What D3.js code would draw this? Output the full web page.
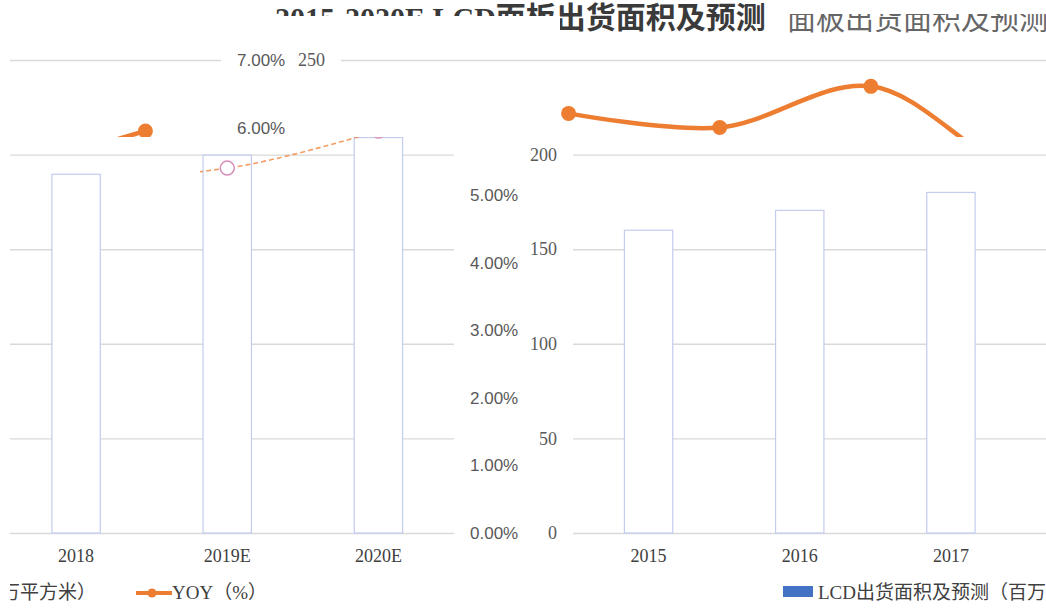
<!DOCTYPE html>
<html>
<head>
<meta charset="utf-8">
<script src="https://cdn.jsdelivr.net/npm/d3@7"></script>
<style>
  body { margin: 0; background: #fff; }
  svg { display: block; }
</style>
</head>
<body>
<div id="chart"></div>
<script>
// values
var years = ["2015", "2016", "2017", "2018", "2019E", "2020E"];
var area = [160, 170.5, 180, 189.6, 199.7, 209];      // 百万平方米
var yoy = [6.21, 6.0, 6.61, 5.35, 5.4, 5.95];         // %
var areaTicks = [0, 50, 100, 150, 200, 250];
var yoyTicks = [0, 1, 2, 3, 4, 5, 6, 7];
var titleText = "2015-2020E LCD面板出货面积及预测";
var titleTail = "面板出货面积及预测";
var barName = "LCD出货面积及预测（百万平方米）";
var lineName = "YOY（%）";

var width = 1046, height = 610;
var serif = "'Liberation Serif', 'Noto Sans CJK SC', serif";
var sans = "'Liberation Sans', 'Noto Sans', sans-serif";
var orange = "#ED7D31";
var blue = "#4472C4";

var svg = d3.select("#chart").append("svg")
  .attr("width", width)
  .attr("height", height);

svg.append("rect").attr("width", width).attr("height", height).attr("fill", "#fff");

var defs = svg.append("defs");

// the chart as it would be without the picture being shifted around
var x = d3.scaleBand().domain(years).range([55, 962]).paddingInner(0.68).paddingOuter(0.34);
var yL = d3.scaleLinear().domain([0, 250]).range([533, 60]);
var yR = d3.scaleLinear().domain([0, 7]).range([533, 60]);

var rows = years.map(function(d, i) {
  return { year: d, area: area[i], yoy: yoy[i] };
});

var line = d3.line()
  .x(function(d) { return x(d.year) + x.bandwidth() / 2; })
  .y(function(d) { return yR(d.yoy); })
  .curve(d3.curveCatmullRom.alpha(0.5));

function drawChart(g, opts) {
  if (opts.base) {
    // gridlines + left axis
    var ax = g.append("g")
      .attr("transform", "translate(55,0)")
      .call(d3.axisLeft(yL).tickValues(areaTicks).tickSize(-907).tickPadding(16));
    ax.select(".domain").remove();
    ax.selectAll("line").attr("stroke", "#d9d9d9").attr("stroke-width", 1.4);
    ax.selectAll("text").attr("fill", "#595959").style("font", "18px " + serif);

    // right axis (%)
    var ar = g.append("g")
      .attr("transform", "translate(962,0)")
      .call(d3.axisRight(yR).tickValues(yoyTicks).tickSize(0).tickPadding(16)
        .tickFormat(function(d) { return d.toFixed(2) + "%"; }));
    ar.select(".domain").remove();
    ar.selectAll("text").attr("fill", "#595959").style("font", "17px " + sans);

    // bottom axis
    var ab = g.append("g")
      .attr("transform", "translate(0,533)")
      .call(d3.axisBottom(x).tickSize(0).tickPadding(16));
    ab.select(".domain").remove();
    ab.selectAll("text").attr("fill", "#404040").style("font", "18px " + serif);

    // bars (white, thin blue edge)
    g.selectAll(".bar").data(rows).enter()
      .append("rect")
      .attr("class", "bar")
      .attr("x", function(d) { return x(d.year); })
      .attr("y", function(d) { return yL(d.area); })
      .attr("width", x.bandwidth())
      .attr("height", function(d) { return yL(0) - yL(d.area); })
      .attr("fill", "#fff")
      .attr("stroke", "#c2ccef")
      .attr("stroke-width", 1.2);

    // legend
    var lg = g.append("g");
    lg.append("rect").attr("x", 265).attr("y", 586).attr("width", 30).attr("height", 11).attr("fill", blue);
    lg.append("text").attr("x", 300).attr("y", 599)
      .attr("fill", "#404040").style("font", "19px " + serif).text(barName);
    lg.append("line").attr("x1", 644).attr("x2", 680).attr("y1", 593).attr("y2", 593)
      .attr("stroke", orange).attr("stroke-width", 4);
    lg.append("circle").attr("cx", 660).attr("cy", 593).attr("r", 4.5).attr("fill", orange);
    lg.append("text").attr("x", 680).attr("y", 599)
      .attr("fill", "#404040").style("font", "19px " + serif).text(lineName);
  }

  if (opts.line) {
    g.append("path").datum(rows)
      .attr("d", line)
      .attr("fill", "none")
      .attr("stroke", orange)
      .attr("stroke-width", 4.5)
      .attr("stroke-linecap", "round");
    g.selectAll(".dot").data(rows).enter()
      .append("circle")
      .attr("class", "dot")
      .attr("cx", function(d) { return x(d.year) + x.bandwidth() / 2; })
      .attr("cy", function(d) { return yR(d.yoy); })
      .attr("r", 7.5)
      .attr("fill", orange);
  }

  if (opts.ghost) {
    g.append("path").datum(rows)
      .attr("d", line)
      .attr("fill", "none")
      .attr("stroke", orange)
      .attr("stroke-width", 1.6)
      .attr("stroke-dasharray", "5,3")
      .attr("opacity", 0.75);
    g.selectAll(".gdot").data(rows).enter()
      .append("circle")
      .attr("class", "gdot")
      .attr("cx", function(d) { return x(d.year) + x.bandwidth() / 2; })
      .attr("cy", function(d) { return yR(d.yoy); })
      .attr("r", 7)
      .attr("fill", "#fff")
      .attr("stroke", "#d58fb8")
      .attr("stroke-width", 1.5);
  }
}

// the picture is cut in strips, each one showing the chart shifted sideways
var n = 0;
function piece(shift, cx, cy, cw, ch, opts) {
  var id = "clip" + (n++);
  defs.append("clipPath").attr("id", id)
    .append("rect").attr("x", cx).attr("y", cy).attr("width", cw).attr("height", ch);
  var outer = svg.append("g").attr("clip-path", "url(#" + id + ")");
  var inner = outer.append("g").attr("transform", "translate(" + shift + ",0)");
  drawChart(inner, opts);
  // drop the texts this strip does not show at all
  inner.selectAll("text").each(function() {
    var b = this.getBoundingClientRect();
    if (b.right <= cx || b.left >= cx + cw || b.bottom <= cy || b.top >= cy + ch) this.remove();
  });
}

piece(518, 520, 137, 526, 473, { base: true });
piece(-508, 10, 137, 510, 473, { base: true });
piece(-508, 200, 137, 200, 48, { ghost: true });
piece(438, 520, 0, 526, 137, { base: true, line: true });
piece(-741, 10, 0, 280, 137, { base: true, line: true });
piece(286, 290, 0, 230, 137, { base: true });

// title, also broken up
function titlePart(id, cx, cy, cw, ch) {
  defs.append("clipPath").attr("id", id)
    .append("rect").attr("x", cx).attr("y", cy).attr("width", cw).attr("height", ch);
  return svg.append("g").attr("clip-path", "url(#" + id + ")");
}

titlePart("t1", 0, 0, 560, 16).append("text")
  .attr("x", 275).attr("y", 28)
  .attr("fill", "#3a3a3a")
  .style("font", "bold 30px " + serif)
  .text(titleText);

titlePart("t2", 560, 0, 222, 40).append("text")
  .attr("x", 275).attr("y", 28)
  .attr("fill", "#3a3a3a")
  .style("font", "bold 30px " + serif)
  .text(titleText);

titlePart("t3", 782, 14, 264, 22).append("text")
  .attr("x", 787).attr("y", 30)
  .attr("fill", "#666")
  .style("font", "29px " + serif)
  .text(titleTail);
</script>
</body>
</html>
